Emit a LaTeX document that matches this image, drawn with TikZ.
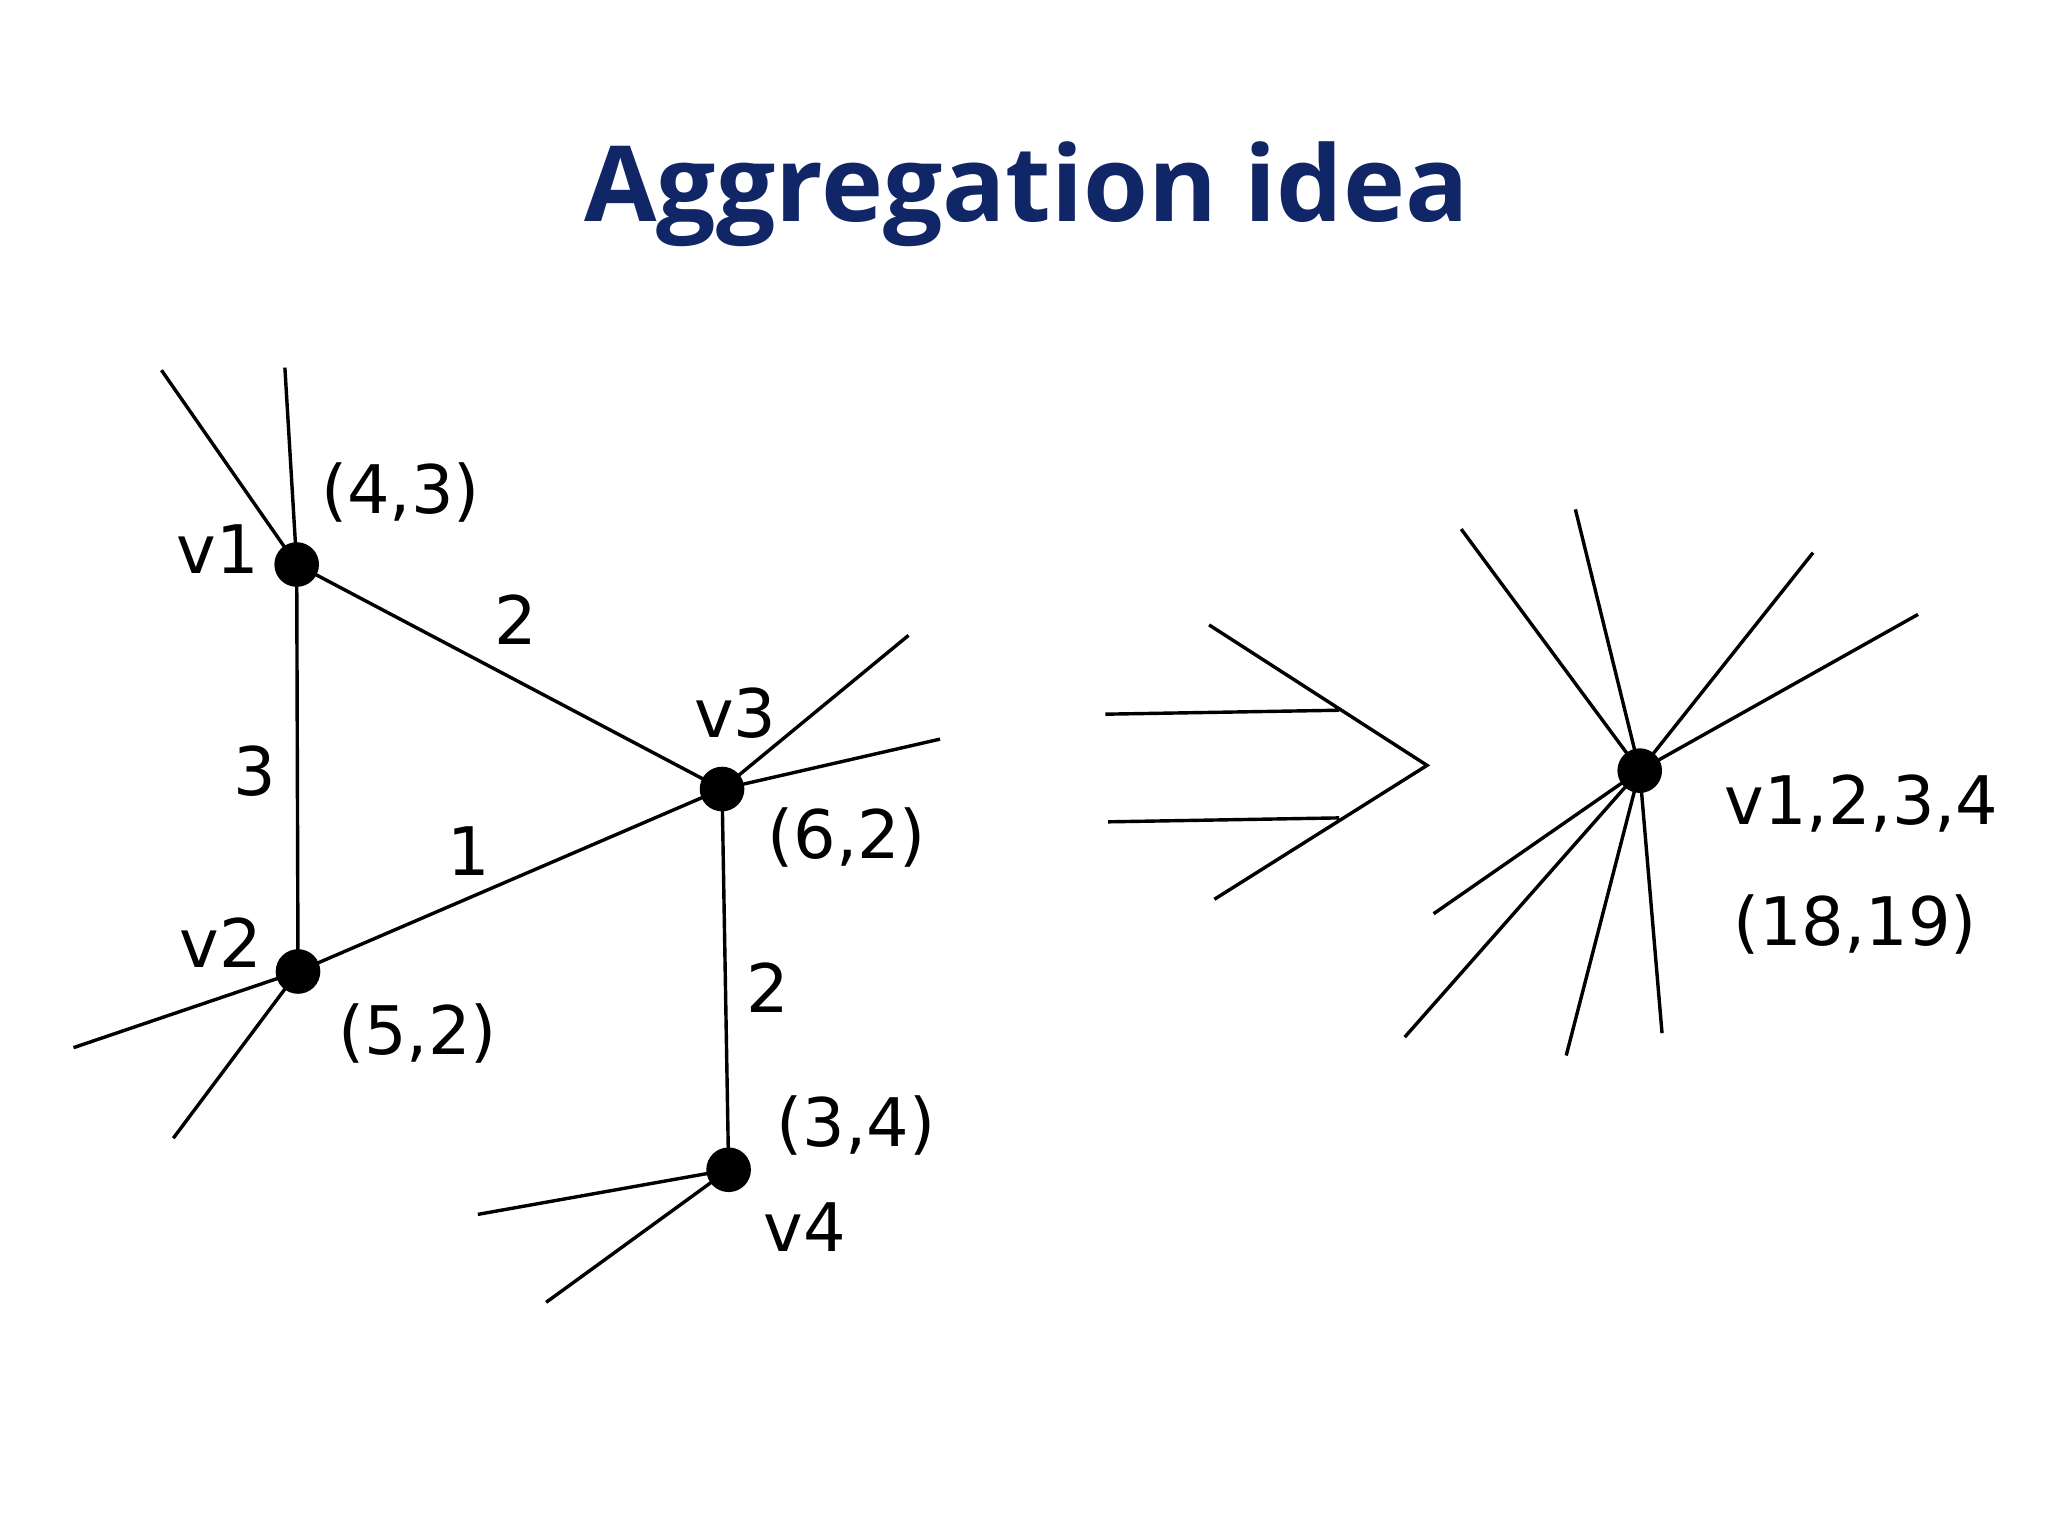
\documentclass[tikz,border=0pt]{standalone}
\usepackage{fontspec}
\setmainfont{DejaVu Sans}
\newfontfamily\titlefont{Open Sans}
\definecolor{titleblue}{RGB}{16,38,102}
\begin{document}
\begin{tikzpicture}[x=1pt,y=-1pt,
  ln/.style={line width=2.6pt},
  dot/.style={circle,fill=black,inner sep=0pt,minimum size=34pt},
  lab/.style={font=\fontsize{51}{55}\selectfont}]
\useasboundingbox (0,0) rectangle (1560,1170);
\node[font=\titlefont\bfseries\fontsize{80}{88}\selectfont,text=titleblue] (title) at (782,148) {Aggregation idea};
\node[dot] (v1) at (226,430) {};
\node[dot] (v2) at (227,740) {};
\node[dot] (v3) at (550,601) {};
\node[dot] (v4) at (555,891) {};
\coordinate (a1) at (123,282); \coordinate (a2) at (217,280);
\coordinate (c1) at (692,484); \coordinate (c2) at (716,563);
\coordinate (b1) at (56,798); \coordinate (b2) at (132,867);
\coordinate (d1) at (364,925); \coordinate (d2) at (416,992);
\draw[ln] (v1.center)--(v2.center) (v1.center)--(v3.center) (v2.center)--(v3.center) (v3.center)--(v4.center)
 (v1.center)--(a1) (v1.center)--(a2) (v3.center)--(c1) (v3.center)--(c2)
 (v2.center)--(b1) (v2.center)--(b2) (v4.center)--(d1) (v4.center)--(d2);
\node[lab] (l1) at (166,418) {v1};
\node[lab] (l2) at (305,375) {(4,3)};
\node[lab] (l3) at (393,472) {2};
\node[lab] (l4) at (194,587) {3};
\node[lab] (l5) at (357,648) {1};
\node[lab] (l6) at (560,543) {v3};
\node[lab] (l7) at (645,638) {(6,2)};
\node[lab] (l8) at (168,718) {v2};
\node[lab] (l9) at (318,787) {(5,2)};
\node[lab] (l10) at (585,752) {2};
\node[lab] (l11) at (652,857) {(3,4)};
\node[lab] (l12) at (613,935) {v4};
\coordinate (p1) at (842,544); \coordinate (p2) at (1020,541);
\coordinate (p3) at (844,626); \coordinate (p4) at (1020,623);
\coordinate (q1) at (921,476); \coordinate (q2) at (1087,583); \coordinate (q3) at (925,685);
\draw[ln] (p1)--(p2) (p3)--(p4) (q1)--(q2)--(q3);
\node[dot] (v) at (1249,587) {};
\coordinate (e1) at (1113,403); \coordinate (e2) at (1200,388);
\coordinate (e3) at (1381,421); \coordinate (e4) at (1461,468);
\coordinate (e5) at (1092,696); \coordinate (e6) at (1070,790);
\coordinate (e7) at (1193,804); \coordinate (e8) at (1266,787);
\draw[ln] (v.center)--(e1) (v.center)--(e2) (v.center)--(e3) (v.center)--(e4)
 (v.center)--(e5) (v.center)--(e6) (v.center)--(e7) (v.center)--(e8);
\node[lab] (m1) at (1418,612) {v1,2,3,4};
\node[lab] (m2) at (1413,704) {(18,19)};
\end{tikzpicture}
\end{document}
